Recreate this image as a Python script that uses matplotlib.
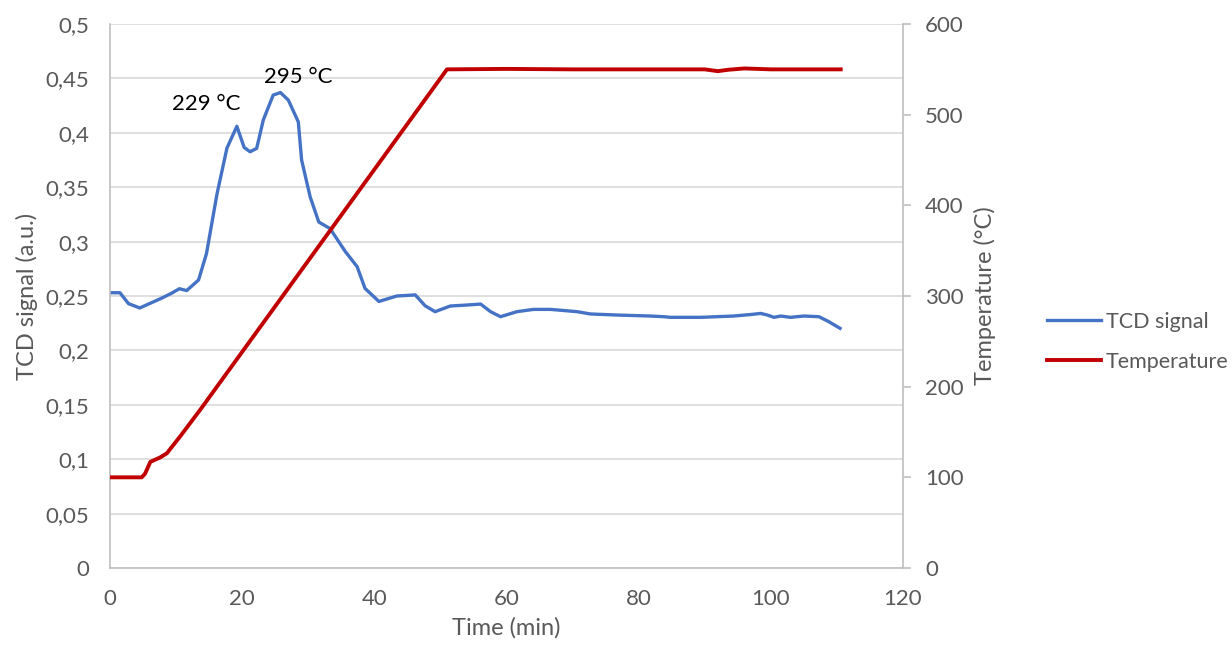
import matplotlib
matplotlib.use("Agg")
import matplotlib.pyplot as plt
from matplotlib.ticker import FuncFormatter, MultipleLocator

# TCD signal (time in min, signal in a.u.)
tcd_time = [0.0, 1.5, 2.8, 4.5, 7.8, 9.3, 10.5, 11.6, 13.4, 14.6, 16.2, 17.7,
            19.2, 20.3, 21.2, 22.2, 23.2, 24.7, 25.8, 27.0, 28.5, 29.0, 30.3,
            31.6, 33.3, 35.6, 37.4, 38.6, 40.7, 43.4, 46.2, 47.7, 49.2, 51.5,
            54.0, 56.1, 57.6, 59.1, 61.6, 64.1, 66.7, 70.7, 72.7, 76.8, 81.8,
            83.8, 84.8, 89.4, 94.4, 97.0, 98.5, 99.5, 100.5, 101.5, 103.0,
            105.0, 107.3, 108.8, 110.5]
tcd_signal = [0.253, 0.253, 0.243, 0.239, 0.248, 0.2525, 0.2567, 0.255, 0.2647,
              0.289, 0.344, 0.386, 0.406, 0.3866, 0.3826, 0.3857, 0.4118,
              0.4347, 0.437, 0.430, 0.410, 0.375, 0.341, 0.318, 0.312, 0.291,
              0.277, 0.257, 0.245, 0.250, 0.251, 0.241, 0.2356, 0.2408,
              0.2417, 0.2426, 0.2356, 0.231, 0.2356, 0.2377, 0.2377, 0.2356,
              0.2335, 0.2325, 0.2316, 0.231, 0.2304, 0.2304, 0.2316, 0.233,
              0.234, 0.2325, 0.2304, 0.2316, 0.2304, 0.2316, 0.231, 0.2264,
              0.2203]

# Temperature programme (time in min, temperature in °C)
temp_time = [0.0, 4.8, 5.3, 6.1, 7.6, 8.6, 10.6, 13.6, 51.0, 60.0, 70.0,
             80.0, 90.0, 91.0, 92.0, 93.5, 96.0, 100.0, 110.6]
temperature = [100, 100, 104, 117, 122, 126.5, 145, 174, 550, 550.5, 550,
               550, 550, 549, 548, 549.5, 551, 550, 550]

# Peak labels
peak_labels = ["229 °C", "295 °C"]
peak_pos = [(14.5, 0.4265), (28.5, 0.451)]

GRAY = "#595959"
AXIS = "#bfbfbf"

plt.rcParams["font.family"] = ["Lato", "DejaVu Sans"]

fig = plt.figure(figsize=(12.32, 6.51), dpi=100)
ax = fig.add_axes([0.0893, 0.1275, 0.6435, 0.8356])
ax2 = ax.twinx()

l1, = ax.plot(tcd_time, tcd_signal, color="#4472c4", linewidth=2.4,
              label="TCD signal", solid_joinstyle="round")
l2, = ax2.plot(temp_time, temperature, color="#c00000", linewidth=2.8,
               label="Temperature", solid_joinstyle="round")

ax.set_xlim(0, 120)
ax.set_ylim(0, 0.5)
ax2.set_ylim(0, 600)
ax.xaxis.set_major_locator(MultipleLocator(20))
ax.yaxis.set_major_locator(MultipleLocator(0.05))
ax2.yaxis.set_major_locator(MultipleLocator(100))


def comma(v, pos):
    s = f"{v:.2f}".rstrip("0").rstrip(".")
    return s.replace(".", ",")


ax.yaxis.set_major_formatter(FuncFormatter(comma))

ax.grid(axis="y", color="#d9d9d9", linewidth=1.2)
ax.set_axisbelow(True)

for a in (ax, ax2):
    for s in a.spines.values():
        s.set_visible(False)
ax.spines["left"].set_visible(True)
ax.spines["bottom"].set_visible(True)
ax2.spines["right"].set_visible(True)
for s in (ax.spines["left"], ax.spines["bottom"], ax2.spines["right"]):
    s.set_color(AXIS)
    s.set_linewidth(1.2)

ax.tick_params(axis="y", length=0, labelsize=16, labelcolor=GRAY, pad=15)
ax.tick_params(axis="x", length=0, labelsize=16, labelcolor=GRAY, pad=15)
ax2.tick_params(axis="y", length=6, color=AXIS, width=1.2, labelsize=16,
                labelcolor=GRAY, pad=10)

ax.set_xlabel("Time (min)", fontsize=17, color=GRAY, labelpad=6)
ax.set_ylabel("TCD signal (a.u.)", fontsize=17, color=GRAY, labelpad=5)
ax2.set_ylabel("Temperature (°C)", fontsize=17, color=GRAY, labelpad=7)

for txt, (x, y) in zip(peak_labels, peak_pos):
    ax.text(x, y, txt, fontsize=16, color="black", ha="center", va="center")

fig.legend([l1, l2], ["TCD signal", "Temperature"], loc="center left",
           bbox_to_anchor=(0.834, 0.475), frameon=False, fontsize=15.5,
           labelcolor=GRAY, handlelength=2.5, handletextpad=0.25,
           labelspacing=0.95)

fig.savefig("out.png", dpi=100)
